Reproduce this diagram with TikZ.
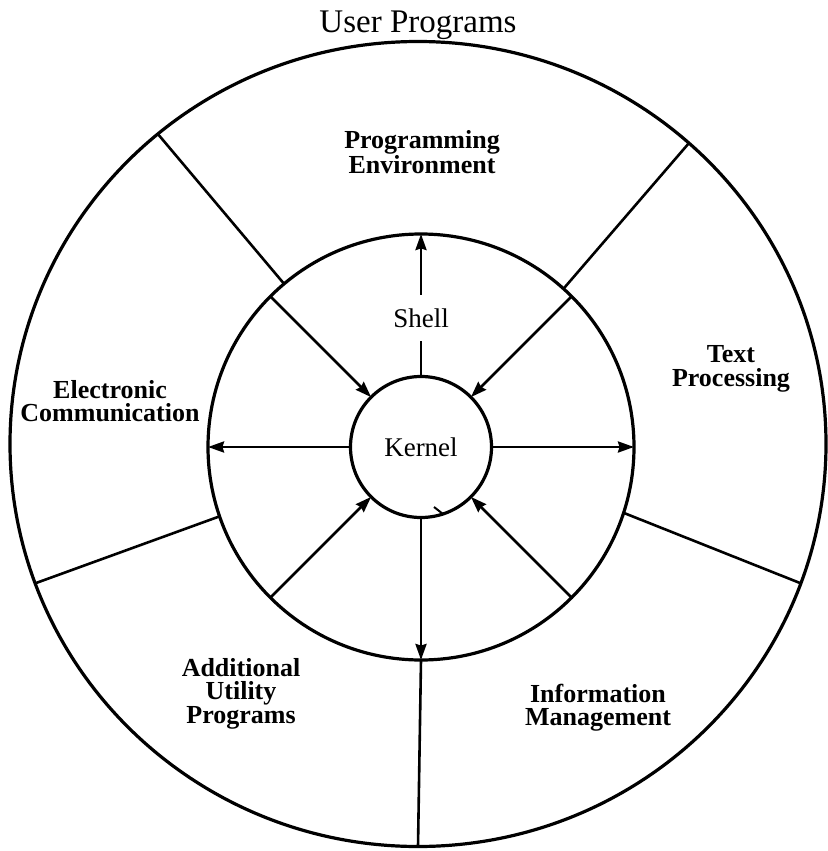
\documentclass[tikz,border=0pt]{standalone}
\usepackage{fontspec}
\setmainfont{Liberation Serif}
\usetikzlibrary{arrows.meta,shapes.geometric}
\tikzset{
  ring/.style={draw, line width=3.2pt, inner sep=0pt, outer sep=0pt},
  conn/.style={line width=2.6pt},
  tipend/.style={-{Stealth[length=16pt,width=11pt,inset=1.5pt]}},
  lbl/.style={font=\bfseries\fontsize{26}{23}\selectfont, align=center, inner sep=0pt, anchor=base},
  plain/.style={font=\fontsize{27}{30}\selectfont, inner sep=0pt},
}
\begin{document}
\begin{tikzpicture}[x=1pt,y=-1pt]
\useasboundingbox (0,0) rectangle (827,851);
% rings
\node[ring, ellipse, minimum width=816pt, minimum height=805pt] (outer) at (418,444) {};
\node[ring, circle, minimum size=426pt] (shellring) at (421,447) {};
\node[ring, circle, minimum size=141pt, plain] (kernel) at (421,447) {Kernel};
% title
\node[font=\fontsize{33}{36}\selectfont, inner sep=0pt, anchor=base] (title) at (418,33) {User Programs};
% shell label
\node[plain, minimum height=46pt] (shell) at (421,318) {Shell};
% spokes in outer ring
\draw[conn] (shellring.130) -- (outer.130);
\draw[conn] (shellring.48) -- (outer.48);
\draw[conn] (shellring.-18) -- (outer.-20);
\draw[conn] (shellring.199) -- (outer.200);
\draw[conn] (shellring.270) -- (outer.270);
% arrows in shell ring
\draw[conn] (kernel.90) -- (shell.south);
\draw[conn, tipend] (shell.north) -- (shellring.90);
\draw[conn, tipend] (kernel.180) -- (shellring.180);
\draw[conn, tipend] (kernel.0) -- (shellring.0);
\draw[conn, tipend] (kernel.270) -- (shellring.270);
\draw[conn, tipend] (shellring.135) -- (kernel.135);
\draw[conn, tipend] (shellring.45) -- (kernel.45);
\draw[conn, tipend] (shellring.225) -- (kernel.225);
\draw[conn, tipend] (shellring.315) -- (kernel.315);
% small tick on kernel
\draw[line width=2pt] (434,507) -- (443,514);
% outer labels (base = baseline of last line)
\node[lbl, font=\bfseries\fontsize{26}{25}\selectfont] (progenv) at (422,173) {Programming\\Environment};
\node[lbl, font=\bfseries\fontsize{26}{24}\selectfont] (textproc) at (731,386) {Text\\Processing};
\node[lbl] (elec) at (110,421) {Electronic\\Communication};
\node[lbl, font=\bfseries\fontsize{26}{22.5}\selectfont] (addl) at (241,723) {Additional\\Utility\\Programs};
\node[lbl, font=\bfseries\fontsize{26}{22.5}\selectfont] (info) at (598,725) {Information\\Management};
\end{tikzpicture}
\end{document}
